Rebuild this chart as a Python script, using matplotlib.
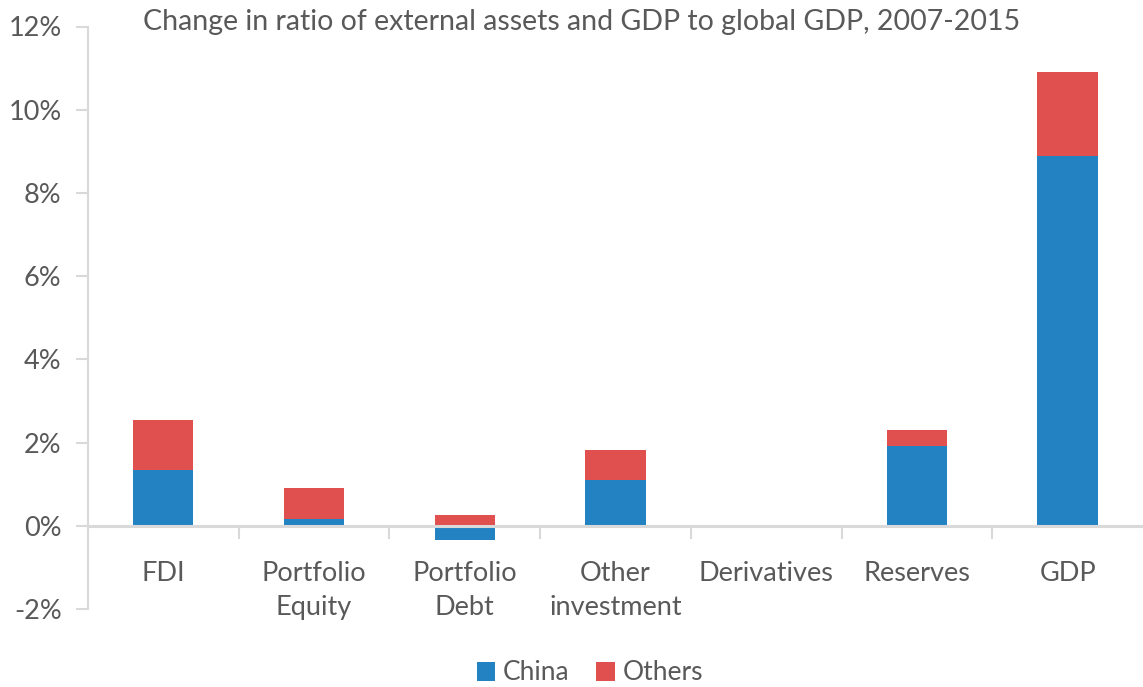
import numpy as np
import matplotlib
matplotlib.use("Agg")
import matplotlib.pyplot as plt
from matplotlib.ticker import FuncFormatter, FixedLocator

categories = ["FDI", "Portfolio\nEquity", "Portfolio\nDebt", "Other\ninvestment",
              "Derivatives", "Reserves", "GDP"]
china = [1.34, 0.16, -0.34, 1.11, 0.0, 1.92, 8.89]
others = [1.21, 0.74, 0.26, 0.72, 0.0, 0.39, 2.01]

CHINA_COLOR = "#2383C2"
OTHERS_COLOR = "#DF504F"
TEXT = "#595959"
GRID = "#D9D9D9"

plt.rcParams["font.family"] = ["Lato", "DejaVu Sans"]

fig = plt.figure(figsize=(11.43, 6.87), dpi=100)
ax = fig.add_axes([88 / 1143, 1 - 609 / 687, 1 - 88 / 1143, (609 - 26.5) / 687])

x = np.arange(len(categories))
china_arr = np.array(china)
others_bottom = np.clip(china_arr, 0, None)

ax.bar(x, china, width=0.4, color=CHINA_COLOR, label="China", zorder=2)
ax.bar(x, others, width=0.4, bottom=others_bottom, color=OTHERS_COLOR,
       label="Others", zorder=2)

ax.set_xlim(-0.5, len(categories) - 0.5)
ax.set_ylim(-2, 12)
ax.set_yticks(np.arange(-2, 13, 2))
ax.yaxis.set_major_formatter(FuncFormatter(lambda v, p: f"{v:.0f}%"))

# spines
for s in ["top", "right"]:
    ax.spines[s].set_visible(False)
ax.spines["left"].set_color(GRID)
ax.spines["left"].set_linewidth(1.5)
ax.spines["bottom"].set_position(("data", 0))
ax.spines["bottom"].set_color(GRID)
ax.spines["bottom"].set_linewidth(2.2)
ax.spines["bottom"].set_zorder(3)

ax.tick_params(axis="y", colors=GRID, labelcolor=TEXT, labelsize=19.5,
               length=9, width=1.5, direction="out", pad=10)

ax.set_xticks(x)
ax.set_xticklabels(categories, linespacing=1.45)
ax.xaxis.set_minor_locator(FixedLocator(np.arange(0.5, len(categories) - 1, 1)))
ax.tick_params(axis="x", which="major", length=0, labelsize=19.5,
               labelcolor=TEXT, pad=25)
ax.tick_params(axis="x", which="minor", length=9, width=1.5, color=GRID,
               direction="out")

fig.text(582 / 1143, 1 - 22 / 687,
         "Change in ratio of external assets and GDP to global GDP, 2007-2015",
         ha="center", va="center", fontsize=20.5, color=TEXT)

leg = fig.legend(loc="center", bbox_to_anchor=(590 / 1143, 1 - 673 / 687),
                 ncol=2, frameon=False, fontsize=19, handlelength=0.7,
                 handleheight=0.7, handletextpad=0.3, columnspacing=1.0)
for t in leg.get_texts():
    t.set_color(TEXT)

fig.savefig("out.png", dpi=100)
